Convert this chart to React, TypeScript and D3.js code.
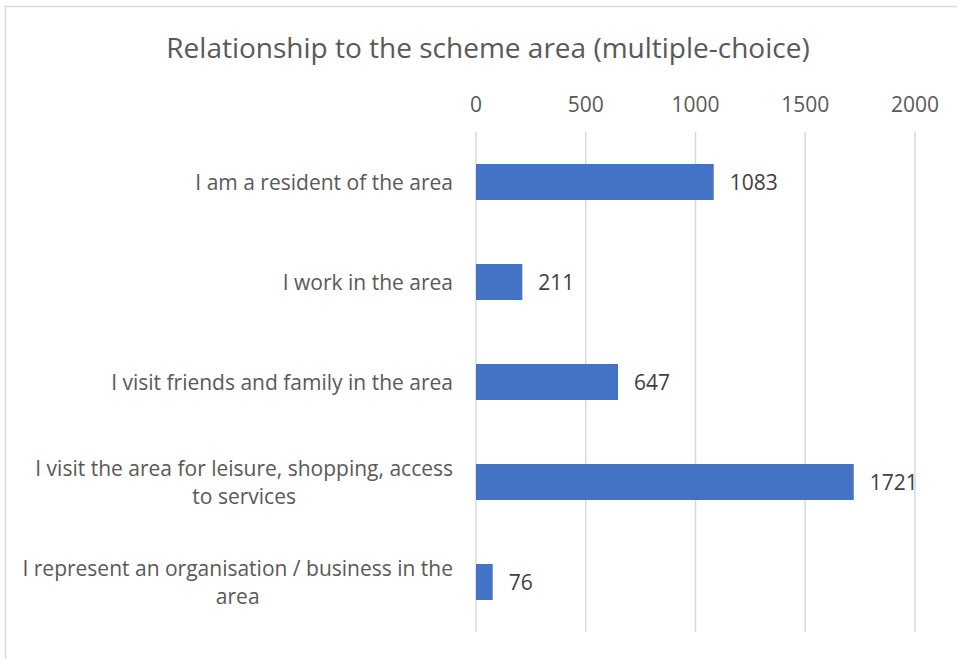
import React, { useEffect, useRef } from "react";
import * as d3 from "d3";

const title = "Relationship to the scheme area (multiple-choice)";
const categories = [
  "I am a resident of the area",
  "I work in the area",
  "I visit friends and family in the area",
  "I visit the area for leisure, shopping, access\nto services",
  "I represent an organisation / business in the\narea",
];
const values = [1083, 211, 647, 1721, 76];
const ticks = [0, 500, 1000, 1500, 2000];

const W = 957;
const H = 659;
const FONT = "'Open Sans', 'Noto Sans', sans-serif";
const TEXT = "#595959";

export default function App() {
  const ref = useRef<SVGSVGElement>(null);
  useEffect(() => {
    const svg = d3.select(ref.current);
    svg.selectAll("*").remove();

    const left = 476, right = 915, top = 132, bottom = 632;
    const x = d3.scaleLinear().domain([0, 2000]).range([left, right]);
    const y = d3.scaleBand().domain(categories).range([top, bottom]).paddingInner(0.64).paddingOuter(0.32);

    svg.append("rect").attr("x", 0).attr("y", 0).attr("width", W).attr("height", H).attr("fill", "#fff");
    svg.append("rect").attr("x", 5.5).attr("y", 6.5).attr("width", W + 10).attr("height", H + 10)
      .attr("fill", "none").attr("stroke", "#D9D9D9").attr("stroke-width", 1.5);

    svg.append("text").attr("x", 488).attr("y", 58).attr("text-anchor", "middle")
      .attr("font-family", FONT).attr("font-size", 28).attr("fill", TEXT).text(title);

    // grid
    svg.append("g").selectAll("line").data(ticks).join("line")
      .attr("x1", (d) => x(d)).attr("x2", (d) => x(d)).attr("y1", top).attr("y2", bottom)
      .attr("stroke", "#D9D9D9").attr("stroke-width", 1.5);

    // tick labels
    svg.append("g").selectAll("text").data(ticks).join("text")
      .attr("x", (d) => x(d)).attr("y", 112).attr("text-anchor", "middle")
      .attr("font-family", FONT).attr("font-size", 21).attr("fill", TEXT).text((d) => String(d));

    // bars
    svg.append("g").selectAll("rect").data(values).join("rect")
      .attr("x", x(0)).attr("y", (_, i) => y(categories[i])!)
      .attr("width", (d) => x(d) - x(0)).attr("height", y.bandwidth())
      .attr("fill", "#4472C4");

    // value labels
    svg.append("g").selectAll("text").data(values).join("text")
      .attr("x", (d) => x(d) + 16).attr("y", (_, i) => y(categories[i])! + y.bandwidth() / 2)
      .attr("dy", "0.36em").attr("font-family", FONT).attr("font-size", 21).attr("fill", "#404040")
      .text((d) => String(d));

    // category labels
    const lineH = 28;
    categories.forEach((c) => {
      const lines = c.split("\n");
      const cy = y(c)! + y.bandwidth() / 2;
      const g = svg.append("g");
      const texts = lines.map((ln, j) =>
        g.append("text").attr("y", cy + (j - (lines.length - 1) / 2) * lineH).attr("dy", "0.36em")
          .attr("font-family", FONT).attr("font-size", 21).attr("fill", TEXT).text(ln)
      );
      const widths = texts.map((t) => (t.node() as SVGTextElement).getComputedTextLength());
      const maxW = Math.max(...widths);
      const cx = 453 - maxW / 2;
      texts.forEach((t) => t.attr("x", cx).attr("text-anchor", "middle"));
    });
  }, []);
  return (
    <svg ref={ref} width={W} height={H} style={{ position: "absolute", left: 0, top: 0 }} />
  );
}
